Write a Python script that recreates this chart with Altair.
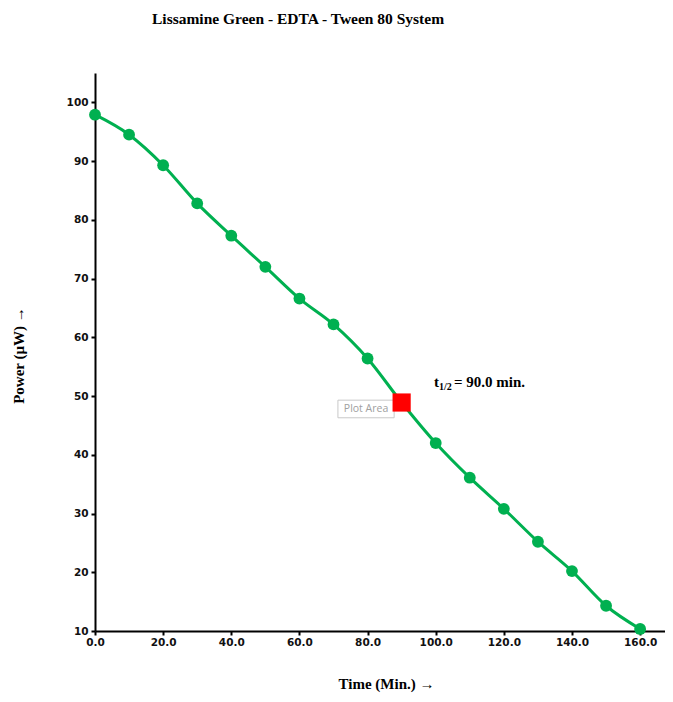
import altair as alt
import pandas as pd

times = [0, 10, 20, 30, 40, 50, 60, 70, 80, 90, 100, 110, 120, 130, 140, 150, 160]
power = [97.9, 94.5, 89.3, 82.8, 77.3, 72.0, 66.6, 62.2, 56.4, 48.9, 42.0, 36.1, 30.8, 25.2, 20.2, 14.3, 10.35]
half_time = [90]
half_power = [48.9]
x_ticks = [0, 20, 40, 60, 80, 100, 120, 140, 160]
y_ticks = [10, 20, 30, 40, 50, 60, 70, 80, 90, 100]

df = pd.DataFrame({"t": times, "p": power})
pts = df[df["t"] != 90]
half = pd.DataFrame({"t": half_time, "p": half_power})
ann = pd.DataFrame({"t": [99.5], "p": [51.6]})
box = pd.DataFrame({"x1": [71.3], "x2": [87.8], "y1": [46.3], "y2": [49.3], "xm": [79.55], "ym": [47.8]})

GREEN = "#00B050"
xs = alt.Scale(domain=[0, 167.3], nice=False, zero=False)
ys = alt.Scale(domain=[10, 105], nice=False, zero=False)

x_axis = alt.Axis(values=x_ticks, format=".1f", title="Time (Min.) →", grid=False,
                  domainColor="black", domainWidth=2, tickColor="black", tickWidth=2, tickSize=4,
                  labelFont="DejaVu Sans", labelFontWeight="bold", labelFontSize=10.5, labelColor="#111",
                  labelPadding=2, labelFlush=False,
                  titleFont="Liberation Serif", titleFontWeight="bold", titleFontSize=15, titleColor="black",
                  titleX=291, titleY=45, titleAnchor="middle", titleBaseline="top")
y_axis = alt.Axis(values=y_ticks, format="d", title="Power (µW) →", grid=False,
                  domainColor="black", domainWidth=2, tickColor="black", tickWidth=2, tickSize=4,
                  labelFont="DejaVu Sans", labelFontWeight="bold", labelFontSize=10.5, labelColor="#111",
                  labelPadding=3,
                  titleFont="Liberation Serif", titleFontWeight="bold", titleFontSize=15, titleColor="black",
                  titleX=-77, titleY=282, titleAngle=-90, titleAlign="center", titleBaseline="middle")

line = alt.Chart(df).mark_line(color=GREEN, strokeWidth=3, interpolate="monotone").encode(
    x=alt.X("t:Q", scale=xs, axis=x_axis),
    y=alt.Y("p:Q", scale=ys, axis=y_axis),
)
dots = alt.Chart(pts).mark_point(filled=True, shape="circle", color=GREEN, size=140, opacity=1).encode(
    x=alt.X("t:Q", scale=xs), y=alt.Y("p:Q", scale=ys)
)
rect = alt.Chart(box).mark_rect(fill="white", stroke="#c8c8c8", strokeWidth=1).encode(
    x=alt.X("x1:Q", scale=xs), x2="x2:Q", y=alt.Y("y1:Q", scale=ys), y2="y2:Q"
)
rect_text = alt.Chart(box).mark_text(text="Plot Area", font="Open Sans", fontSize=10.5, color="#a0a0a0").encode(
    x=alt.X("xm:Q", scale=xs), y=alt.Y("ym:Q", scale=ys)
)
sq = alt.Chart(half).mark_point(filled=True, shape="square", color="#FF0000", size=330, opacity=1).encode(
    x=alt.X("t:Q", scale=xs), y=alt.Y("p:Q", scale=ys)
)
t_main = alt.Chart(ann).mark_text(text="t", font="Liberation Serif", fontWeight="bold", fontSize=15,
                                  align="left", baseline="alphabetic", color="black").encode(
    x=alt.X("t:Q", scale=xs), y=alt.Y("p:Q", scale=ys)
)
t_sub = alt.Chart(ann).mark_text(text="1/2", font="Liberation Serif", fontWeight="bold", fontSize=10,
                                 align="left", baseline="alphabetic", dx=5, dy=3, color="black").encode(
    x=alt.X("t:Q", scale=xs), y=alt.Y("p:Q", scale=ys)
)
t_rest = alt.Chart(ann).mark_text(text="= 90.0 min.", font="Liberation Serif", fontWeight="bold", fontSize=15,
                                  align="left", baseline="alphabetic", dx=20, color="black").encode(
    x=alt.X("t:Q", scale=xs), y=alt.Y("p:Q", scale=ys)
)

chart = alt.layer(line, dots, rect, rect_text, sq, t_main, t_sub, t_rest).properties(
    width=570, height=558,
    autosize=alt.AutoSizeParams(type="none"),
    padding={"left": 87, "top": 65, "right": 0, "bottom": 63},
    title=alt.TitleParams("Lissamine Green - EDTA - Tween 80 System", font="Liberation Serif",
                          fontWeight="bold", fontSize=15.5, color="black", anchor="start", dx=57, offset=46,
                          frame="group"),
).configure(background="white").configure_view(strokeWidth=0, stroke="transparent")

chart.save("out.html", embed_options={"renderer": "svg", "actions": False})
